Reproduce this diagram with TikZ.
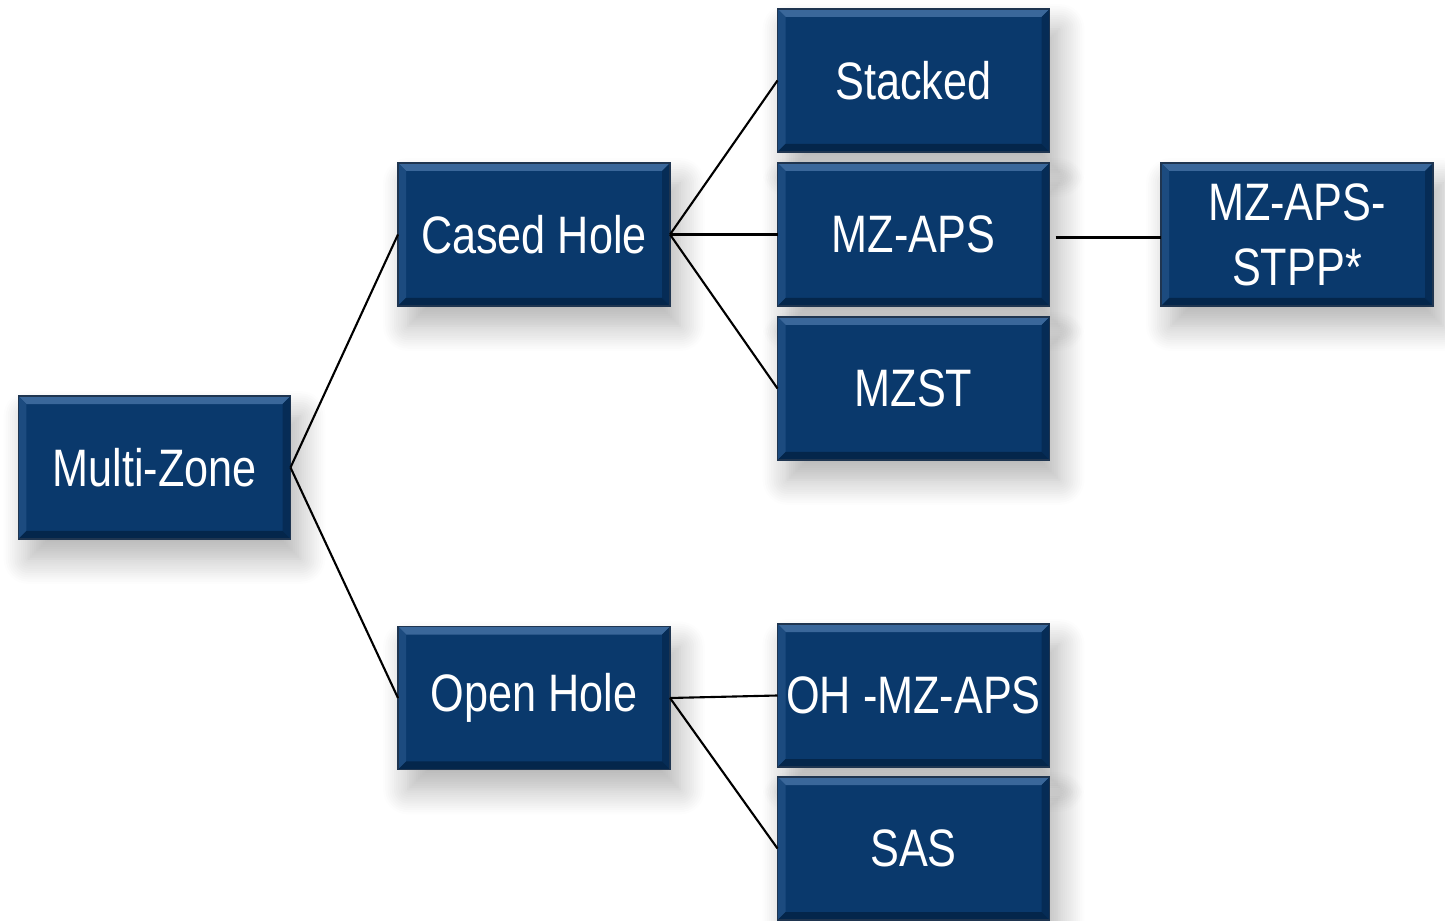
\documentclass[tikz,border=0pt]{standalone}
\usepackage{fontspec}
\newfontfamily\narrowfont[FakeStretch=0.82]{Liberation Sans}
\usetikzlibrary{calc,shadows.blur}
\definecolor{zonefill}{HTML}{0A396C}
\definecolor{zonetop}{HTML}{3A679A}
\definecolor{zoneleft}{HTML}{1C4B7F}
\definecolor{zoneright}{HTML}{062C56}
\definecolor{zonebottom}{HTML}{04264B}
\definecolor{zoneedge}{HTML}{1F3550}
\tikzset{
	zonebox/.style={draw=zoneedge,line width=0.4pt,fill=zonefill,
		minimum width=2.72cm,minimum height=1.43cm,inner sep=0pt,outer sep=0pt,
		text=white,align=center,font=\narrowfont\fontsize{15}{18.5}\selectfont,
		blur shadow={shadow xshift=0.1cm,shadow yshift=-0.2cm,shadow blur radius=0.25cm,shadow blur steps=12,shadow opacity=30},
		path picture={
			\coordinate (nw) at (path picture bounding box.north west);
			\coordinate (ne) at (path picture bounding box.north east);
			\coordinate (sw) at (path picture bounding box.south west);
			\coordinate (se) at (path picture bounding box.south east);
			\fill[zonetop] (nw) -- (ne) -- ($(ne)+(-0.08,-0.08)$) -- ($(nw)+(0.08,-0.08)$) -- cycle;
			\fill[zoneleft] (nw) -- (sw) -- ($(sw)+(0.08,0.08)$) -- ($(nw)+(0.08,-0.08)$) -- cycle;
			\fill[zoneright] (ne) -- (se) -- ($(se)+(-0.08,0.08)$) -- ($(ne)+(-0.08,-0.08)$) -- cycle;
			\fill[zonebottom] (sw) -- (se) -- ($(se)+(-0.08,0.08)$) -- ($(sw)+(0.08,0.08)$) -- cycle;
		}},
	link/.style={line width=0.6pt,black}
}
\begin{document}
\begin{tikzpicture}
		\useasboundingbox (0,0) rectangle (14.45,9.2);
		\node[zonebox] (MZ) at (1.545,4.525) {Multi-Zone};
		\node[zonebox] (CH) at (5.34,6.855) {Cased Hole};
		\node[zonebox] (OH) at (5.34,2.22) {Open Hole};
		\node[zonebox] (ST) at (9.135,8.395) {Stacked};
		\node[zonebox] (MZA) at (9.135,6.855) {MZ-APS};
		\node[zonebox] (MZST) at (9.135,5.315) {MZST};
		\node[zonebox] (OHM) at (9.135,2.245) {OH -MZ-APS};
		\node[zonebox] (SAS) at (9.135,0.715) {SAS};
		\node[zonebox] (STPP) at (12.97,6.855) {MZ-APS-\\STPP*};
		\draw[link] (MZ.east) -- (CH.west);
		\draw[link] (MZ.east) -- (OH.west);
		\draw[link] (CH.east) -- (ST.west);
		\draw[link] (CH.east) -- (MZA.west);
		\draw[link] (CH.east) -- (MZST.west);
		\draw[link] (OH.east) -- (OHM.west);
		\draw[link] (OH.east) -- (SAS.west);
		\draw[link,shorten <=0.06cm] ([yshift=-0.03cm]MZA.east) -- ([yshift=-0.03cm]STPP.west);
	\end{tikzpicture}
\end{document}
